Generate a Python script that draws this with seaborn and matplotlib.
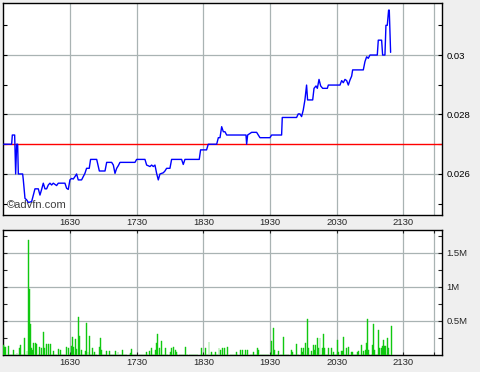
import matplotlib
matplotlib.use("Agg")
import matplotlib.pyplot as plt
import seaborn as sns

# ---- data (minutes after 15:30) ----
price_time = [0, 7.2, 7.8, 9.9, 10.8, 11.7, 12.6, 13.2, 17.1, 17.7,
              19.2, 20.7, 22.2, 25.2, 26.7, 28.2, 31.2, 32.7, 34.2, 35.7,
              37.2, 38.7, 40.2, 41.7, 43.2, 44.7, 47.7, 49.2, 55.2, 56.7,
              58.2, 59.7, 61.2, 62.7, 64.2, 65.7, 67.2, 70.2, 71.7, 73.2,
              74.7, 77.1, 78.3, 83.8, 86.2, 91.3, 92.8, 97.3, 98.8, 100.3,
              101.8, 103.3, 104.8, 118.3, 119.8, 127.3, 128.8, 131.8, 133.3, 134.8,
              136.3, 137.8, 139.3, 140.8, 142.3, 143.8, 145.3, 146.8, 149.8, 151.3,
              160.3, 161.8, 163.3, 176.2, 177.4, 182.8, 184.3, 191.9, 193.4, 194.9,
              196.4, 197.9, 199.4, 200.9, 218.3, 218.9, 219.8, 223.4, 227.9, 230.9,
              239.9, 241.4, 250.4, 251.0, 263.9, 265.4, 266.9, 268.4, 269.9, 271.4,
              272.9, 273.8, 278.4, 279.6, 281.4, 282.6, 284.1, 285.6, 287.4, 291.6,
              292.5, 303.0, 304.5, 306.0, 307.5, 309.0, 310.5, 312.0, 313.5, 314.4,
              324.0, 325.5, 327.0, 328.5, 330.0, 336.6, 337.5, 340.5, 341.4, 343.5,
              344.4, 345.6, 346.8, 347.4, 348.6]
price_value = [0.02700, 0.02700, 0.02731, 0.02731, 0.02600, 0.02700, 0.02700, 0.02600, 0.02600, 0.02580,
               0.02518, 0.02513, 0.02504, 0.02507, 0.02529, 0.02550, 0.02550, 0.02529, 0.02548, 0.02569,
               0.02550, 0.02550, 0.02563, 0.02569, 0.02563, 0.02569, 0.02561, 0.02569, 0.02569, 0.02552,
               0.02548, 0.02580, 0.02585, 0.02583, 0.02591, 0.02600, 0.02580, 0.02580, 0.02591, 0.02602,
               0.02619, 0.02619, 0.02649, 0.02649, 0.02610, 0.02610, 0.02639, 0.02639, 0.02630, 0.02602,
               0.02619, 0.02628, 0.02639, 0.02639, 0.02649, 0.02649, 0.02630, 0.02625, 0.02630, 0.02625,
               0.02630, 0.02602, 0.02580, 0.02600, 0.02602, 0.02604, 0.02610, 0.02619, 0.02619, 0.02649,
               0.02649, 0.02632, 0.02649, 0.02649, 0.02681, 0.02681, 0.02700, 0.02700, 0.02722, 0.02722,
               0.02759, 0.02742, 0.02742, 0.02731, 0.02731, 0.02700, 0.02731, 0.02740, 0.02740, 0.02722,
               0.02722, 0.02731, 0.02731, 0.02790, 0.02790, 0.02802, 0.02802, 0.02793, 0.02815, 0.02849,
               0.02899, 0.02849, 0.02849, 0.02888, 0.02896, 0.02888, 0.02918, 0.02896, 0.02888, 0.02888,
               0.02899, 0.02899, 0.02914, 0.02907, 0.02918, 0.02914, 0.02899, 0.02916, 0.02929, 0.02950,
               0.02950, 0.02978, 0.02994, 0.02989, 0.03000, 0.03000, 0.03050, 0.03050, 0.03000, 0.03000,
               0.03100, 0.03100, 0.03151, 0.03151, 0.03009]
ref_price = 0.027

vol_time = [0, 1, 2, 4, 9, 12, 14, 15, 19, 21, 22, 23, 24, 25, 26, 27, 29, 30, 32, 34,
            36, 37, 39, 40, 42, 45, 49, 51, 57, 58, 61, 62, 63, 65, 66, 67, 68, 70, 74, 75,
            76, 77, 80, 82, 86, 87, 88, 93, 95, 101, 103, 107, 114, 115, 129, 131, 133, 137, 138, 139,
            140, 142, 146, 150, 151, 153, 155, 156, 164, 178, 182, 185, 187, 191, 194, 195, 197, 199, 202, 210,
            213, 215, 218, 220, 225, 229, 230, 241, 243, 244, 248, 252, 259, 260, 264, 268, 269, 270, 272, 274,
            275, 277, 279, 280, 281, 283, 284, 285, 287, 288, 289, 293, 295, 297, 301, 302, 304, 305, 306, 309,
            311, 313, 314, 319, 320, 322, 324, 326, 327, 328, 329, 332, 333, 334, 338, 339, 340, 341, 342, 343,
            344, 346, 347, 349]
vol_k = [147, 123, 113, 132, 74, 34, 98, 147, 255, 64, 1691, 971, 456, 98, 74, 181, 172, 162, 123, 108,
         338, 98, 162, 162, 162, 59, 88, 74, 113, 98, 132, 260, 123, 240, 83, 559, 284, 74, 64, 471,
         49, 284, 98, 39, 123, 255, 74, 59, 59, 64, 39, 74, 34, 88, 49, 59, 98, 74, 172, 309,
         98, 211, 98, 49, 98, 123, 74, 49, 123, 98, 98, 186, 49, 39, 98, 74, 98, 98, 123, 39,
         74, 74, 74, 74, 39, 98, 74, 211, 402, 74, 59, 265, 74, 49, 162, 108, 49, 98, 172, 529,
         98, 59, 147, 74, 147, 255, 108, 250, 108, 304, 108, 98, 108, 39, 221, 49, 59, 59, 265, 98,
         118, 49, 39, 49, 64, 147, 64, 74, 172, 529, 74, 147, 456, 74, 373, 98, 98, 132, 221, 132,
         132, 245, 98, 426]

grid_minutes = [60, 120, 180, 240, 300, 360, 388]
time_labels = ["1630", "1730", "1830", "1930", "2030", "2130", ""]
price_ticks = [0.026, 0.028, 0.03]
price_labels = ["0.026", "0.028", "0.03"]
vol_ticks = [500, 1000, 1500]
vol_labels = ["0.5M", "1M", "1.5M"]

# ---- style ----
sns.set_style("white")
plt.rcParams["font.family"] = ["Liberation Sans", "DejaVu Sans"]
GRID = "#a9b3b3"
GREEN = "#10c810"
FS = 6.8

fig = plt.figure(figsize=(4.8, 3.72), dpi=100, facecolor="#efefef")
ax1 = fig.add_axes([3 / 480, 1 - 215 / 372, 439 / 480, 212.3 / 372])
ax2 = fig.add_axes([3 / 480, 1 - 355 / 372, 439 / 480, 125 / 372])

# price panel
ax1.axhline(ref_price, color="#ff0000", lw=1.0, zorder=2)
sns.lineplot(x=price_time, y=price_value, ax=ax1, color="#0000ff", lw=1.0,
             estimator=None, sort=False, zorder=3)
ax1.set_xlim(-0.6, 394.9)
ax1.set_ylim(0.02462, 0.03176)
ax1.set_xticks(grid_minutes)
ax1.set_xticklabels([])
ax1.yaxis.tick_right()
ax1.set_yticks(price_ticks)
ax1.set_yticklabels(price_labels)
ax1.set_yticks([0.025, 0.027, 0.029, 0.031], minor=True)
ax1.tick_params(axis="y", which="both", direction="in", left=True, right=True,
                length=3, width=0.8, labelsize=FS, pad=3, colors="black")
ax1.tick_params(axis="x", which="both", length=0)
ax1.grid(True, which="major", color=GRID, lw=0.9)
ax1.text(0.009, 0.048, "\u00a9advfn.com", transform=ax1.transAxes, fontsize=8,
         color="#404040", va="center", ha="left", zorder=4)

# volume panel
sns.histplot(x=vol_time, weights=vol_k, discrete=True, shrink=0.85, ax=ax2,
             color=GREEN, alpha=1, edgecolor=GREEN, linewidth=0.3, zorder=3)
ax2.set_xlim(-0.6, 394.9)
ax2.set_ylim(0, 1838)
ax2.set_xticks(grid_minutes)
ax2.set_xticklabels(time_labels)
ax2.yaxis.tick_right()
ax2.set_yticks(vol_ticks)
ax2.set_yticklabels(vol_labels)
ax2.set_yticks([250, 750, 1250, 1750], minor=True)
ax2.tick_params(axis="y", which="both", direction="in", left=True, right=True,
                length=3, width=0.8, labelsize=FS, pad=3)
ax2.tick_params(axis="x", which="both", direction="in", top=True, bottom=True,
                labeltop=True, labelbottom=True, length=2, labelsize=FS, pad=2)
ax2.grid(True, which="major", color=GRID, lw=0.9)
ax2.set_ylabel("")
ax2.set_xlabel("")

for ax in (ax1, ax2):
    ax.set_facecolor("white")
    ax.set_axisbelow(True)
    for s in ax.spines.values():
        s.set_color("black")
        s.set_linewidth(1.0)
        s.set_visible(True)

fig.savefig("out.png", dpi=100, facecolor=fig.get_facecolor())
